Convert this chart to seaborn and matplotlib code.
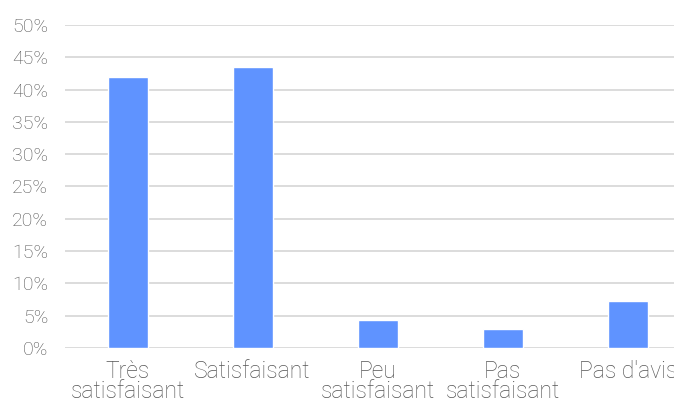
import pandas as pd
import seaborn as sns
import matplotlib.pyplot as plt
from matplotlib.ticker import MultipleLocator, FuncFormatter

# Chart data
categories = ['Très\nsatisfaisant', 'Satisfaisant', 'Peu\nsatisfaisant', 'Pas\nsatisfaisant', "Pas d'avis"]
values = [42.0, 43.5, 4.3, 2.9, 7.2]

df = pd.DataFrame({'categorie': categories, 'pourcentage': values})

sns.set_style('white')
plt.rcParams['font.family'] = ['Roboto', 'DejaVu Sans']

fig = plt.figure(figsize=(6.74, 4.03), dpi=100)
ax = fig.add_axes([0.0964, 0.1365, 0.928, 0.8015])

sns.barplot(data=df, x='categorie', y='pourcentage', color='#5f93ff',
            saturation=1, width=0.32, ax=ax, zorder=3)

ax.set_ylim(0, 50)
ax.yaxis.set_major_locator(MultipleLocator(5))
ax.yaxis.set_major_formatter(FuncFormatter(lambda v, p: f'{v:.0f}%'))
ax.grid(axis='y', color='#d9d9d9', linewidth=1.3, zorder=0)
ax.set_axisbelow(True)
for s in ax.spines.values():
    s.set_visible(False)

ax.set_xlabel('')
ax.set_ylabel('')
ax.tick_params(axis='both', length=0, labelcolor='#555555')
ax.tick_params(axis='y', pad=12, labelsize=14)
ax.tick_params(axis='x', pad=9, labelsize=16.5)
for lbl in ax.get_xticklabels() + ax.get_yticklabels():
    lbl.set_fontweight('light')
for lbl in ax.get_xticklabels():
    lbl.set_linespacing(0.78)
    lbl.set_verticalalignment('top')

fig.savefig('out.png', dpi=100)
plt.close()
